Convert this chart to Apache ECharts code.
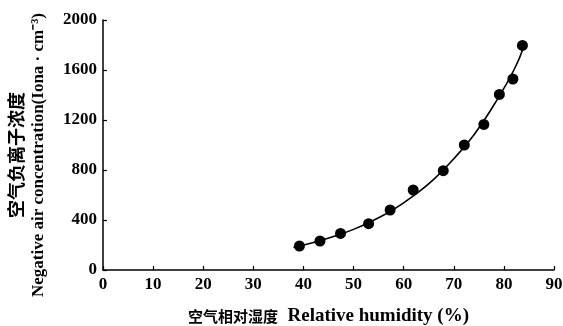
<!DOCTYPE html>
<html><head><meta charset="utf-8">
<script src="https://cdn.jsdelivr.net/npm/echarts@6/dist/echarts.min.js"></script>
<style>html,body{margin:0;padding:0;background:#fff}#c{width:563px;height:326px}</style>
</head><body><div id="c"></div>
<script>
// Observed points: relative humidity (%) and negative air ion concentration
const humidity = [39.2, 43.3, 47.4, 53.0, 57.3, 61.9, 67.9, 72.1, 76.0, 79.1, 81.8, 83.7];
const ions     = [192, 232, 293, 371, 480, 640, 795, 1000, 1165, 1405, 1528, 1797];
// Fitted curve
const curveX = [38, 42, 46, 50, 54, 58, 62, 66, 70, 74, 78, 82, 84];
const curveY = [180, 220, 268, 325, 398, 485, 595, 725, 890, 1080, 1320, 1600, 1790];
const xTicks = [0, 10, 20, 30, 40, 50, 60, 70, 80, 90];
const yTicks = [0, 400, 800, 1200, 1600, 2000];

const serif = '"Liberation Serif", "Noto Sans CJK SC", serif';
const cjk = '"Noto Sans CJK SC", serif';
const chart = echarts.init(document.getElementById('c'));
chart.setOption({
  animation: false,
  backgroundColor: '#fff',
  grid: {left: 103, right: 9, top: 20, bottom: 56, containLabel: false, outerBoundsMode: 'none'},
  xAxis: {
    type: 'value', min: xTicks[0], max: xTicks[xTicks.length-1], interval: 10,
    name: '{a|空气相对湿度}{b|  Relative humidity (%)}',
    nameLocation: 'middle', nameGap: 37,
    nameTextStyle: {
      color: '#000',
      rich: {
        a: {fontFamily: cjk, fontSize: 15, fontWeight: 'bold', color: '#000'},
        b: {fontFamily: serif, fontSize: 19, fontWeight: 'bold', color: '#000'}
      }
    },
    axisLine: {lineStyle: {color: '#000', width: 1.5}},
    axisTick: {inside: true, length: 4, lineStyle: {color: '#000', width: 1.2}},
    axisLabel: {fontFamily: serif, fontSize: 17, fontWeight: 'bold', color: '#000', margin: 6,
                formatter: v => String(v)},
    splitLine: {show: false}
  },
  yAxis: {
    type: 'value', min: yTicks[0], max: yTicks[yTicks.length-1], interval: 400,
    name: '{a|空气负离子浓度}\n{b|Negative air concentration(Iona · cm⁻³)}',
    nameLocation: 'middle', nameRotate: 90, nameGap: 54,
    nameTextStyle: {
      color: '#000',
      padding: [0, 20, 0, 0],
      rich: {
        a: {fontFamily: cjk, fontSize: 18, fontWeight: 'bold', color: '#000', lineHeight: 26},
        b: {fontFamily: serif, fontSize: 17, fontWeight: 'bold', color: '#000', lineHeight: 20}
      }
    },
    axisLine: {lineStyle: {color: '#000', width: 1.5}},
    axisTick: {inside: true, length: 4, lineStyle: {color: '#000', width: 1.2}},
    axisLabel: {fontFamily: serif, fontSize: 17, fontWeight: 'bold', color: '#000', margin: 6,
                formatter: v => String(v)},
    splitLine: {show: false}
  },
  series: [
    {
      type: 'line', data: curveX.map((x, i) => [x, curveY[i]]),
      smooth: true, showSymbol: false, symbol: 'none',
      lineStyle: {color: '#000', width: 1.6}, z: 2
    },
    {
      type: 'scatter', data: humidity.map((x, i) => [x, ions[i]]),
      symbol: 'circle', symbolSize: 11,
      itemStyle: {color: '#000', opacity: 1}, z: 3
    }
  ]
});
</script></body></html>
